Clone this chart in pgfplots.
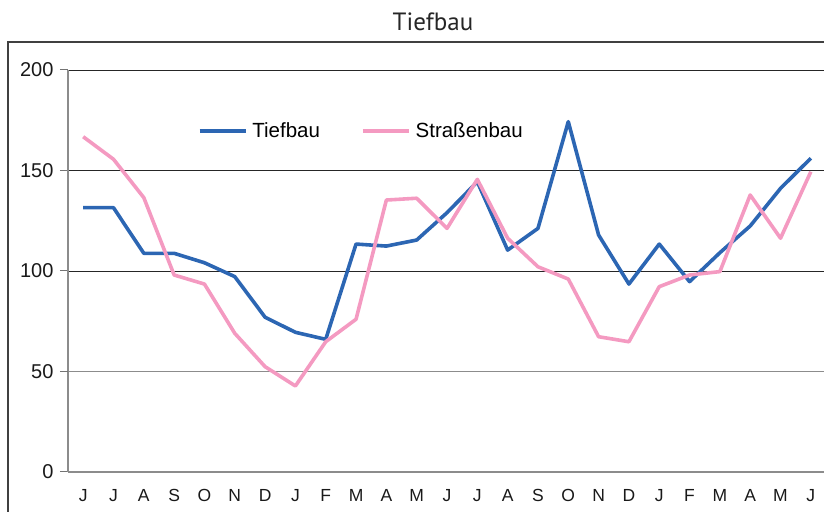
\documentclass[border=0pt]{standalone}
\usepackage{pgfplots}
\pgfplotsset{compat=1.18}
\usepackage{fontspec}
\setmainfont{Liberation Sans}
\newfontfamily\titlefont{PT Sans}
\definecolor{tblue}{RGB}{44,102,179}
\definecolor{spink}{RGB}{244,154,193}
\begin{document}
\begin{tikzpicture}[x=1pt,y=1pt]
\path[use as bounding box] (0,0) rectangle (824,511);
\clip (0,0) rectangle (824,511);
\draw[color=black!75, line width=1.5pt] (8,-20) -- (8,469) -- (900,469);
\node[font=\titlefont\fontsize{25}{25}\selectfont, text=black!85] at (433,489) {Tiefbau};
\begin{axis}[
  at={(68pt,39pt)}, anchor=south west,
  scale only axis, width=758pt, height=402pt,
  xmin=-0.5, xmax=24.5, ymin=0, ymax=200,
  axis x line*=bottom, axis y line*=left,
  axis line style={color=black!45, line width=1.4pt},
  xtick={0,...,24},
  xticklabels={J,J,A,S,O,N,D,J,F,M,A,M,J,J,A,S,O,N,D,J,F,M,A,M,J},
  xtick style={draw=none},
  minor xtick={-0.5,0.5,...,24.5},
  minor x tick style={color=black!55, line width=1pt},
  minor tick length=6pt,
  ytick={0,100,150,200},
  extra y ticks={50},
  extra y tick labels={50},
  extra y tick style={grid style={color=black!45, line width=1.5pt}},
  ymajorgrids,
  grid style={color=black!85, line width=0.9pt},
  y tick style={color=black!55, line width=1pt},
  major tick length=8pt,
  tick align=outside,
  /pgf/number format/assume math mode=true,
  yticklabel style={font=\fontsize{20}{20}\selectfont, text=black!90, xshift=-3pt},
  xticklabel style={font=\fontsize{17.5}{17.5}\selectfont, text=black!90, yshift=-6pt},
  legend columns=2,
  legend style={at={(0.171,0.848)}, anchor=west, draw=none, fill=none,
    inner sep=0pt, font=\fontsize{20.5}{20.5}\selectfont,
    /tikz/every odd column/.append style={column sep=3pt},
    /tikz/every even column/.append style={column sep=39pt}},
  legend image code/.code={\draw[#1] (0pt,0pt) -- (46pt,0pt);},
]
\addplot[color=tblue, line width=3.6pt, line join=round] coordinates {
(0,131.5)(1,131.5)(2,108.8)(3,108.8)(4,104.1)(5,97.2)(6,77.0)(7,69.5)(8,66.0)
(9,113.4)(10,112.4)(11,115.4)(12,129)(13,144.4)(14,110.4)(15,121.2)(16,174.3)
(17,117.9)(18,93.5)(19,113.4)(20,94.7)(21,109.1)(22,122.4)(23,141.1)(24,156.1)};
\addlegendentry{Tiefbau}
\addplot[color=spink, line width=3.6pt, line join=round] coordinates {
(0,166.8)(1,155.6)(2,136.5)(3,98.0)(4,93.5)(5,69.0)(6,52.4)(7,42.8)(8,64.8)
(9,76.0)(10,135.3)(11,136.2)(12,121.2)(13,145.6)(14,116.3)(15,102.1)(16,96.0)
(17,67.3)(18,64.8)(19,92.2)(20,98.0)(21,99.7)(22,137.8)(23,116.3)(24,149.4)};
\addlegendentry{Straßenbau}
\end{axis}
\end{tikzpicture}
\end{document}
